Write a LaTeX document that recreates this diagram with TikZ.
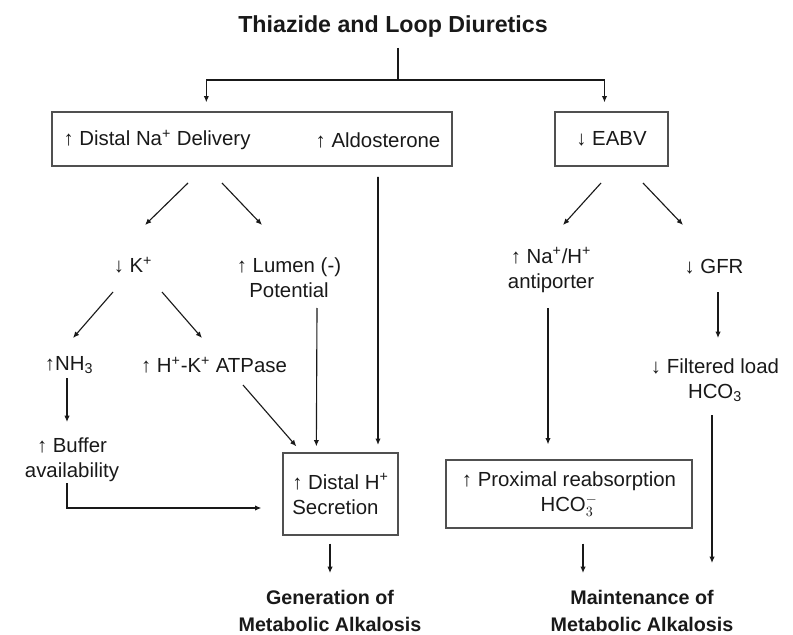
\documentclass[tikz,border=0pt]{standalone}
\usepackage{fontspec}
\setmainfont{Liberation Sans}
\usetikzlibrary{calc,arrows.meta}

\begin{document}
\begin{tikzpicture}[x=0.025cm,y=-0.025cm,
  txt/.style={text=ink,font=\fontsize{14.5}{17.7}\selectfont,align=center,inner sep=1pt},
  hdr/.style={text=ink,font=\fontsize{14}{19}\selectfont\bfseries,align=center,inner sep=1pt},
  box/.style={draw=boxgray,line width=0.9pt},
  arr/.style={-{Latex[length=4.5pt,width=3.8pt]},line width=0.8pt,draw=ink},
  ln/.style={line width=0.8pt,draw=ink}]
\definecolor{ink}{RGB}{25,25,25}     %#191919
\definecolor{boxgray}{RGB}{80,80,80} %#505050

\useasboundingbox (0,0) rectangle (793,635);

\coordinate (fork) at (398,80);

\node[hdr,font=\fontsize{16.5}{19}\selectfont\bfseries] (title) at (393,27) {Thiazide and Loop Diuretics};

\node[box,minimum width=10cm,minimum height=1.35cm] (topl) at (252,139) {};
\node[txt] (na)   at (157,140) {↑ Distal Na\textsuperscript{+} Delivery};
\node[txt] (aldo) at (378,140) {↑ Aldosterone};
\node[box,txt,minimum width=2.825cm,minimum height=1.35cm] (eabv) at (611.5,139) {↓ EABV};

\node[txt] (lk)    at (133,265) {↓ K\textsuperscript{+}};
\node[txt] (lumen) at (289,278) {↑ Lumen (-)\\Potential};
\node[txt] (nhe)   at (551,270) {↑ Na\textsuperscript{+}/H\textsuperscript{+}\\antiporter};
\node[txt] (gfr)   at (714,267) {↓ GFR};

\node[txt] (nh3)  at (69,365)  {↑NH\textsubscript{3}};
\node[txt] (atp)  at (214,365) {↑ H\textsuperscript{+}-K\textsuperscript{+} ATPase};
\node[txt] (filt) at (715,380) {↓ Filtered load\\HCO\textsubscript{3}};
\node[txt] (buf)  at (72,460)  {↑ Buffer\\availability};

\node[box,txt,align=left,minimum width=2.875cm,minimum height=2.05cm] (dhs) at (340.5,494) {↑ Distal H\textsuperscript{+}\\Secretion};
\node[box,txt,minimum width=6.15cm,minimum height=1.7cm] (prox) at (569,494) {↑ Proximal reabsorption\\HCO$^{-}_{3}$};

\node[hdr] (gen) at (330,611) {Generation of\\Metabolic Alkalosis};
\node[hdr] (mnt) at (642,611) {Maintenance of\\Metabolic Alkalosis};

\draw[ln]  ($(fork)+(0,-32)$) -- (fork);
\draw[arr] (fork) -| ($(topl.north west)+(155,-9)$);
\draw[arr] (fork) -| ($(eabv.north)+(-7,-9)$);

\draw[arr] ($(topl)+(-64,44)$) -- ($(lk)+(12,-40)$);
\draw[arr] ($(topl)+(-30,44)$) -- ($(lumen)+(-27,-53)$);
\draw[arr,line width=1.1pt] ($(aldo)+(0,37)$) -- ($(dhs)+(37.5,-49)$);
\draw[arr] ($(eabv)+(-10.5,44)$) -- ($(nhe)+(12,-45)$);
\draw[arr] ($(eabv)+(31.5,44)$) -- ($(gfr)+(-31,-42)$);

\draw[arr] ($(lk)+(-20,27)$) -- ($(nh3)+(4,-27)$);
\draw[arr] ($(lk)+(29,27)$) -- ($(atp)+(-12,-27)$);
\draw[arr] ($(nh3)+(-2,13)$) -- ($(buf)+(-5,-38)$);
\draw[arr] ($(buf)+(-5,23)$) |- ($(dhs.west)+(-21,14)$);
\draw[arr] ($(atp)+(29,20)$) -- ($(dhs.north west)+(14,-6)$);
\draw[arr] ($(lumen)+(28,30)$) -- ($(dhs.north west)+(34,-6)$);
\draw[arr] ($(dhs.south)+(-10.5,8)$) -- ($(gen)+(0,-38)$);

\draw[arr] ($(nhe)+(-3,38)$) -- ($(prox.north)+(-21,-15)$);
\draw[arr] ($(gfr)+(4,25)$) -- ($(filt)+(3,-42)$);
\draw[arr] ($(filt)+(-3,35)$) -- ($(mnt)+(70,-48)$);
\draw[arr] ($(prox.south)+(14,15)$) -- ($(mnt)+(-59,-38)$);

\end{tikzpicture}
\end{document}
